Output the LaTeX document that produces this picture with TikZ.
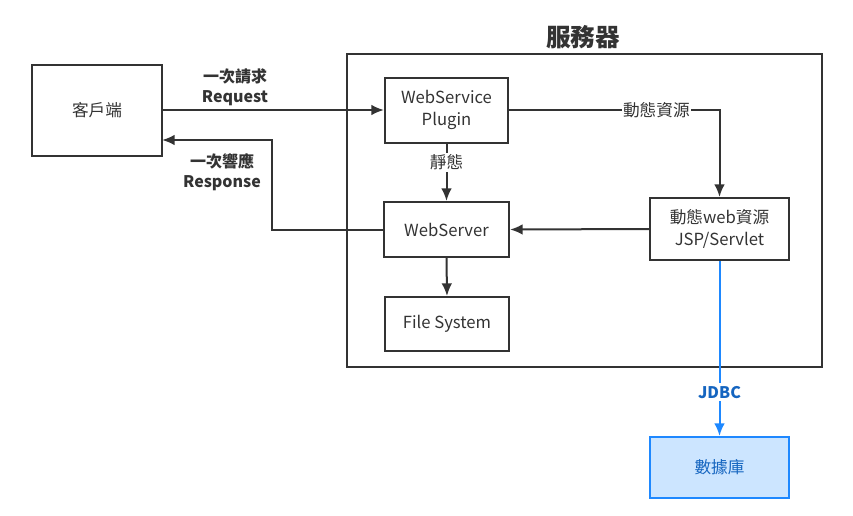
\documentclass[tikz,border=0pt]{standalone}
\usepackage{fontspec}
\setmainfont{Noto Sans CJK TC}
\usetikzlibrary{arrows.meta}

\definecolor{linegray}{HTML}{333333}
\definecolor{dbblue}{HTML}{1E88FF}
\definecolor{dbfill}{HTML}{CCE5FF}
\definecolor{jdbcblue}{HTML}{1565C0}

\begin{document}
\begin{tikzpicture}[x=0.75pt, y=-0.75pt,
    box/.style={draw=linegray, line width=1.5pt, align=center, text=linegray,
        font=\fontsize{12.5}{16}\selectfont},
    conn/.style={-{Latex[length=9.5pt,width=8pt]}, line width=1.5pt, draw=linegray},
    lbl/.style={text=linegray, align=center, font=\fontsize{12.5}{15}\selectfont}]

    \useasboundingbox (0,0) rectangle (853,515);

    %serveur
    \draw[linegray, line width=1.5pt] (347,54) rectangle (822,367);
    \node[text=linegray, font=\fontsize{18.5}{20}\selectfont\bfseries] (title) at (583,37) {服務器};

    %boites
    \node[box, minimum width=97.5pt, minimum height=68.25pt] (client) at (97,110) {客戶端};
    \node[box, minimum width=92.25pt, minimum height=48.75pt] (plugin) at (446.5,110) {WebService\\Plugin};
    \node[box, minimum width=93.75pt, minimum height=41.25pt] (webserver) at (446.5,229.5) {WebServer};
    \node[box, minimum width=93pt, minimum height=40.5pt] (fs) at (447,324) {File System};
    \node[box, minimum width=104.25pt, minimum height=46.5pt] (jsp) at (719.5,229) {動態web資源\\JSP/Servlet};
    \node[box, draw=dbblue, fill=dbfill, text=jdbcblue, minimum width=104.25pt, minimum height=45.75pt] (db) at (719.5,467.5) {數據庫};

    %requete
    \draw[conn] (client.east) -- (plugin.west);
    \node[lbl, font=\fontsize{12}{15}\selectfont\bfseries] (req) at (235,87) {一次請求\\Request};

    %reponse
    \coordinate (respturn) at (272,140);
    \coordinate (respin) at (162,140);
    \draw[conn] (webserver.west) -| (respturn) -- (respin);
    \node[lbl, font=\fontsize{12}{15}\selectfont\bfseries] (resp) at (222,172) {一次響應\\Response};

    %dynamique / statique
    \draw[conn] (plugin.east) -| node[pos=0.35, lbl, fill=white, inner xsep=1pt] (dyn) {動態資源} (jsp.north);
    \draw[conn] (plugin.south) -- node[pos=0.33, lbl, fill=white, inner sep=1pt] (stat) {靜態} (webserver.north);
    \draw[conn] (jsp.west) -- (webserver.east);
    \draw[conn] (webserver.south) -- (fs.north);

    %jdbc
    \draw[conn, draw=dbblue, fill=dbblue] (jsp.south) -- node[pos=0.75, fill=white, text=jdbcblue, font=\fontsize{12}{15}\selectfont\bfseries, inner sep=2pt] (jdbc) {JDBC} (db.north);

\end{tikzpicture}
\end{document}
